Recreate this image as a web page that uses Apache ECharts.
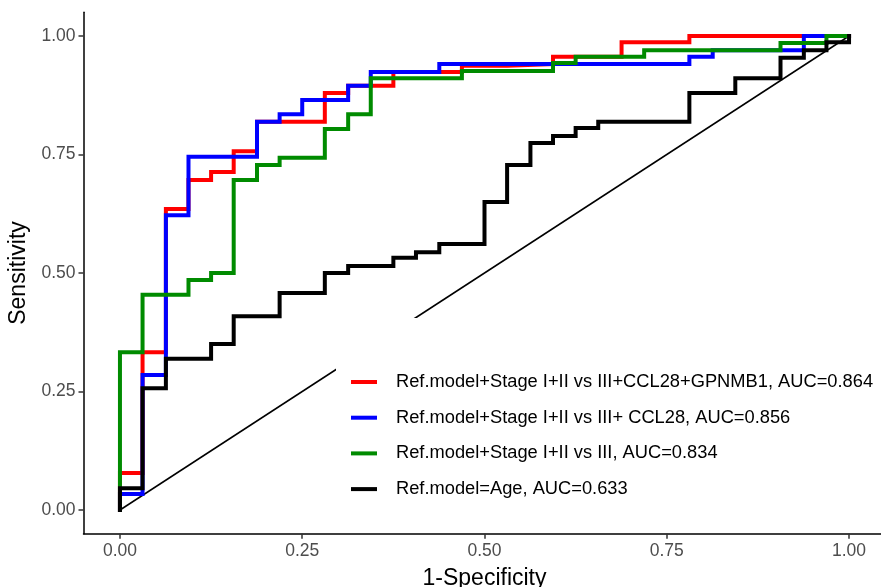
<!DOCTYPE html>
<html>
<head>
<meta charset="utf-8">
<script src="https://cdn.jsdelivr.net/npm/echarts@6/dist/echarts.min.js"></script>
<style>
  html, body { margin: 0; padding: 0; background: #fff; }
  #chart { width: 881px; height: 587px; }
</style>
</head>
<body>
<div id="chart"></div>
<script>
// ROC step curves: at each false-positive rate the sensitivity rises to the listed level
const seriesNames = [
  'Ref.model+Stage I+II vs III+CCL28+GPNMB1, AUC=0.864',
  'Ref.model+Stage I+II vs III+ CCL28, AUC=0.856',
  'Ref.model+Stage I+II vs III, AUC=0.834',
  'Ref.model=Age, AUC=0.633'
];
const seriesColors = ['#FF0000', '#0000FF', '#008B00', '#000000'];

const redFpr = [0, 0.031, 0.063, 0.094, 0.125, 0.156, 0.188, 0.281, 0.313, 0.375, 0.469, 0.531, 0.594, 0.688, 0.781];
const redTpr = [0.078, 0.333, 0.635, 0.696, 0.713, 0.757, 0.819, 0.880, 0.895, 0.924, 0.937, 0.941, 0.956, 0.987, 1.0];

const blueFpr = [0, 0.031, 0.063, 0.094, 0.188, 0.219, 0.25, 0.313, 0.344, 0.438, 0.781, 0.813, 0.938];
const blueTpr = [0.034, 0.285, 0.622, 0.745, 0.819, 0.835, 0.865, 0.895, 0.924, 0.941, 0.956, 0.970, 1.0];

const greenFpr = [0, 0.031, 0.094, 0.125, 0.156, 0.188, 0.219, 0.281, 0.313, 0.344, 0.469, 0.594, 0.625, 0.719, 0.906, 0.969];
const greenTpr = [0.333, 0.454, 0.485, 0.5, 0.696, 0.728, 0.743, 0.804, 0.835, 0.911, 0.926, 0.943, 0.956, 0.970, 0.985, 1.0];

const blackFpr = [0, 0.031, 0.063, 0.125, 0.156, 0.219, 0.281, 0.313, 0.375, 0.406, 0.438, 0.5, 0.531, 0.563, 0.594, 0.625, 0.656, 0.781, 0.844, 0.906, 0.938, 0.969, 1.0];
const blackTpr = [0.046, 0.257, 0.319, 0.350, 0.409, 0.458, 0.5, 0.515, 0.532, 0.544, 0.561, 0.650, 0.728, 0.774, 0.789, 0.806, 0.819, 0.880, 0.911, 0.954, 0.970, 0.987, 1.0];

// chance line
const chanceLine = [[0, 0], [1, 1]];

const tickValues = [0, 0.25, 0.5, 0.75, 1];

// turn the step breakpoints into a path of vertical and horizontal moves
function stepPath(fpr, tpr) {
  const pts = [[0, 0]];
  let prev = 0;
  for (let i = 0; i < fpr.length; i++) {
    pts.push([fpr[i], prev]);
    pts.push([fpr[i], tpr[i]]);
    prev = tpr[i];
  }
  pts.push([1, prev]);
  return pts;
}

const curves = [
  stepPath(redFpr, redTpr),
  stepPath(blueFpr, blueTpr),
  stepPath(greenFpr, greenTpr),
  stepPath(blackFpr, blackTpr)
];

const FONT = 'Liberation Sans, Arial, sans-serif';

const chart = echarts.init(document.getElementById('chart'), null, { renderer: 'canvas' });

const axisCommon = {
  type: 'value',
  min: -0.05,
  max: 1.05,
  splitLine: { show: false },
  axisLine: { show: true, onZero: false, lineStyle: { color: '#000', width: 1.5 } },
  axisTick: { show: true, customValues: tickValues, length: 5, lineStyle: { color: '#333', width: 1.5 } },
  axisLabel: {
    customValues: tickValues,
    color: '#4D4D4D',
    fontSize: 17.5,
    fontFamily: FONT,
    formatter: v => v.toFixed(2)
  },
  nameTextStyle: { color: '#000', fontSize: 23, fontFamily: FONT },
  nameLocation: 'middle'
};

const series = [{
  name: 'chance',
  type: 'line',
  data: chanceLine,
  showSymbol: false,
  silent: true,
  z: 1,
  lineStyle: { color: '#000', width: 1.5 }
}];
curves.forEach((pts, i) => {
  series.push({
    name: seriesNames[i],
    type: 'line',
    data: pts,
    showSymbol: false,
    z: 2 + i,
    color: seriesColors[i],
    lineStyle: { color: seriesColors[i], width: 4, join: 'miter', cap: 'square' }
  });
});

chart.setOption({
  animation: false,
  backgroundColor: '#fff',
  grid: {
    left: 83.5, top: 12.3, width: 802, height: 521.4,
    containLabel: false, outerBoundsMode: 'none'
  },
  xAxis: Object.assign({}, axisCommon, {
    name: '1-Specificity',
    nameGap: 33,
    axisLabel: Object.assign({}, axisCommon.axisLabel, { margin: 8 })
  }),
  yAxis: Object.assign({}, axisCommon, {
    name: 'Sensitivity',
    nameGap: 53,
    axisLabel: Object.assign({}, axisCommon.axisLabel, { margin: 8 })
  }),
  legend: {
    data: seriesNames,
    orient: 'vertical',
    left: 336,
    top: 318,
    padding: [54, 10, 12, 15],
    backgroundColor: '#fff',
    icon: 'rect',
    itemWidth: 26,
    itemHeight: 4,
    itemGap: 15.7,
    selectedMode: false,
    textStyle: {
      color: '#000',
      fontSize: 18.3,
      fontFamily: FONT,
      lineHeight: 20,
      padding: [0, 0, 0, 14]
    }
  },
  series: series
});
</script>
</body>
</html>
